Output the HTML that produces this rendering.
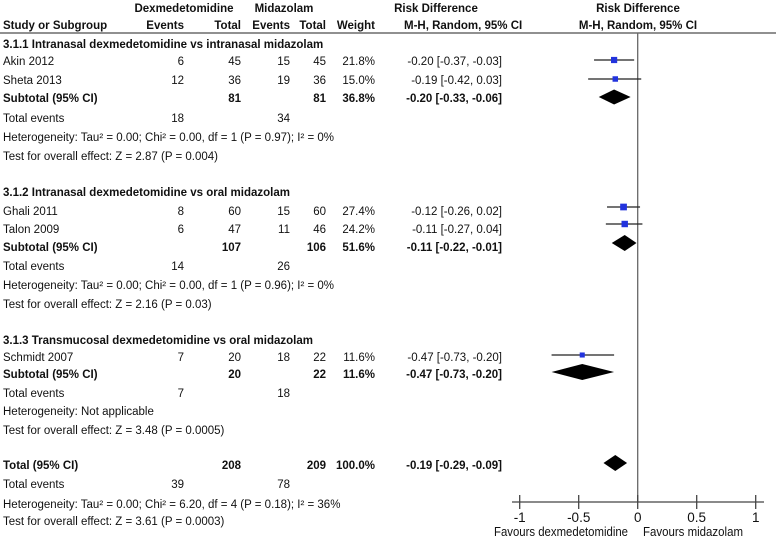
<!DOCTYPE html>
<html><head><meta charset="utf-8"><style>
html,body{margin:0;padding:0;background:#fff;}
svg{display:block;font-family:"Liberation Sans",Arial,sans-serif;font-size:11.5px;}
text.b{font-weight:bold;}
text.ax{font-size:13.5px;}
text.fav{font-size:12.5px;}
</style></head><body>
<svg id="c" width="776" height="540" viewBox="0 0 776 540">
<g id="txt" fill="#111"></g>
<g id="plot"></g>
</svg>
<script>
const studies = ["Akin 2012","Sheta 2013","Ghali 2011","Talon 2009","Schmidt 2007"];
const estimates = [-0.20,-0.19,-0.12,-0.11,-0.47];
const lowers = [-0.37,-0.42,-0.26,-0.27,-0.73];
const uppers = [-0.03,0.03,0.02,0.04,-0.20];
const weights = [21.8,15.0,27.4,24.2,11.6];
const subtotalEst = [-0.20,-0.11,-0.47,-0.19];
const subtotalLo = [-0.33,-0.22,-0.73,-0.29];
const subtotalHi = [-0.06,-0.01,-0.20,-0.09];
const ticks = [-1,-0.5,0,0.5,1];
const tickLabels = ["-1","-0.5","0","0.5","1"];

const NS="http://www.w3.org/2000/svg";
const tg=document.getElementById('txt');
const pg=document.getElementById('plot');
const X=v=>637.7+v*118;
function el(tag,attrs,parent){const e=document.createElementNS(NS,tag);for(const k in attrs)e.setAttribute(k,attrs[k]);parent.appendChild(e);return e;}
function t(x,y,s,opt,name){opt=opt||{};const e=el('text',{x:x,y:y},tg);let c=[];if(opt.b)c.push('b');if(opt.c)c.push(opt.c);if(c.length)e.setAttribute('class',c.join(' '));if(opt.a)e.setAttribute('text-anchor',opt.a);if(opt.len){e.setAttribute('textLength',opt.len);e.setAttribute('lengthAdjust','spacingAndGlyphs');}e.textContent=s;


return e;}

t(184,12,"Dexmedetomidine",{b:1,a:'middle'},'header-dexmedetomidine');
t(284,12,"Midazolam",{b:1,a:'middle'},'header-midazolam');
t(436,12,"Risk Difference",{b:1,a:'middle'},'header-risk-difference');
t(638,12,"Risk Difference",{b:1,a:'middle'},'header-risk-difference-plot');
t(3,29,"Study or Subgroup",{b:1},'header-study');
t(184,29,"Events",{b:1,a:'end'},'header-events-1');
t(241,29,"Total",{b:1,a:'end'},'header-total-1');
t(290,29,"Events",{b:1,a:'end'},'header-events-2');
t(326,29,"Total",{b:1,a:'end'},'header-total-2');
t(375,29,"Weight",{b:1,a:'end'},'header-weight');
t(404,29,"M-H, Random, 95% CI",{b:1},'header-ci');
t(638,29,"M-H, Random, 95% CI",{b:1,a:'middle'},'header-ci-plot');
const hl=el('line',{x1:0,y1:33,x2:776,y2:33,stroke:'#222','stroke-width':1},pg);



const rowsText=[
 [48,"3.1.1 Intranasal dexmedetomidine vs intranasal midazolam"],
 [196,"3.1.2 Intranasal dexmedetomidine vs oral midazolam"],
 [344,"3.1.3 Transmucosal dexmedetomidine vs oral midazolam"]
];
rowsText.forEach((r,i)=>t(3,r[0],r[1],{b:1},'subgroup-title-'+(i+1)));

const studyRows=[65,84,215,233,361];
const ev1=["6","12","8","6","7"],n1=["45","36","60","47","20"],ev2=["15","19","15","11","18"],n2=["45","36","60","46","22"];
const ciTxt=["-0.20 [-0.37, -0.03]","-0.19 [-0.42, 0.03]","-0.12 [-0.26, 0.02]","-0.11 [-0.27, 0.04]","-0.47 [-0.73, -0.20]"];
studies.forEach((s,i)=>{const y=studyRows[i];
 t(3,y,s,{},'study-name');t(184,y,ev1[i],{a:'end'},'events-dex');t(241,y,n1[i],{a:'end'},'total-dex');
 t(290,y,ev2[i],{a:'end'},'events-mid');t(326,y,n2[i],{a:'end'},'total-mid');t(375,y,weights[i].toFixed(1)+"%",{a:'end'},'weight');
 t(502,y,ciTxt[i],{a:'end'},'ci-text');});

const subRows=[102,251,378,469];
const subLab=["Subtotal (95% CI)","Subtotal (95% CI)","Subtotal (95% CI)","Total (95% CI)"];
const subN1=["81","107","20","208"],subN2=["81","106","22","209"],subW=["36.8%","51.6%","11.6%","100.0%"];
const subCI=["-0.20 [-0.33, -0.06]","-0.11 [-0.22, -0.01]","-0.47 [-0.73, -0.20]","-0.19 [-0.29, -0.09]"];
subRows.forEach((y,i)=>{t(3,y,subLab[i],{b:1},'subtotal-label');t(241,y,subN1[i],{b:1,a:'end'},'subtotal-total-dex');
 t(326,y,subN2[i],{b:1,a:'end'},'subtotal-total-mid');t(375,y,subW[i],{b:1,a:'end'},'subtotal-weight');t(502,y,subCI[i],{b:1,a:'end'},'subtotal-ci');});

const teRows=[122,270,397,488],te1=["18","14","7","39"],te2=["34","26","18","78"];
teRows.forEach((y,i)=>{t(3,y,"Total events",{},'total-events-label');t(184,y,te1[i],{a:'end'},'total-events-dex');t(290,y,te2[i],{a:'end'},'total-events-mid');});
const het=[[141,"Heterogeneity: Tau² = 0.00; Chi² = 0.00, df = 1 (P = 0.97); I² = 0%"],[289,"Heterogeneity: Tau² = 0.00; Chi² = 0.00, df = 1 (P = 0.96); I² = 0%"],[415,"Heterogeneity: Not applicable"],[508,"Heterogeneity: Tau² = 0.00; Chi² = 6.20, df = 4 (P = 0.18); I² = 36%"]];
het.forEach(h=>t(3,h[0],h[1],{},'heterogeneity'));
const tst=[[160,"Test for overall effect: Z = 2.87 (P = 0.004)"],[308,"Test for overall effect: Z = 2.16 (P = 0.03)"],[434,"Test for overall effect: Z = 3.48 (P = 0.0005)"],[525,"Test for overall effect: Z = 3.61 (P = 0.0003)"]];
tst.forEach(h=>t(3,h[0],h[1],{},'overall-effect'));

const z=el('line',{x1:X(0),y1:33,x2:X(0),y2:502,stroke:'#666','stroke-width':1.3},pg);


const markY=[60,79,207,224,355];
studies.forEach((s,i)=>{const y=markY[i];
 const l=el('line',{x1:X(lowers[i]),y1:y,x2:X(uppers[i]),y2:y,stroke:'#222','stroke-width':1.2},pg);
 
 
 const sz=2+Math.sqrt(weights[i])*0.9;
 const r=el('rect',{x:X(estimates[i])-sz/2,y:y-sz/2,width:sz,height:sz,fill:'#2233dd'},pg);
 
 });
const diaY=[97,243,372,463],diaH=[7.5,8,8,8];
subtotalEst.forEach((e,i)=>{const y=diaY[i],h=diaH[i];
 const p=el('polygon',{points:`${X(subtotalLo[i])},${y} ${X(e)},${y-h} ${X(subtotalHi[i])},${y} ${X(e)},${y+h}`,fill:'#000'},pg);
 
 });
const ax=el('line',{x1:512,y1:502,x2:764,y2:502,stroke:'#444','stroke-width':1.2},pg);


ticks.forEach((v,i)=>{const tk=el('line',{x1:X(v),y1:495,x2:X(v),y2:509,stroke:'#444','stroke-width':1.3},pg);
 
 
 t(X(v),522,tickLabels[i],{a:'middle',c:'ax'},'x-tick-label');});
t(494,536,"Favours dexmedetomidine",{c:'fav',len:134},'favours-dexmedetomidine');
t(643,536,"Favours midazolam",{c:'fav',len:100},'favours-midazolam');
</script>
</body></html>
